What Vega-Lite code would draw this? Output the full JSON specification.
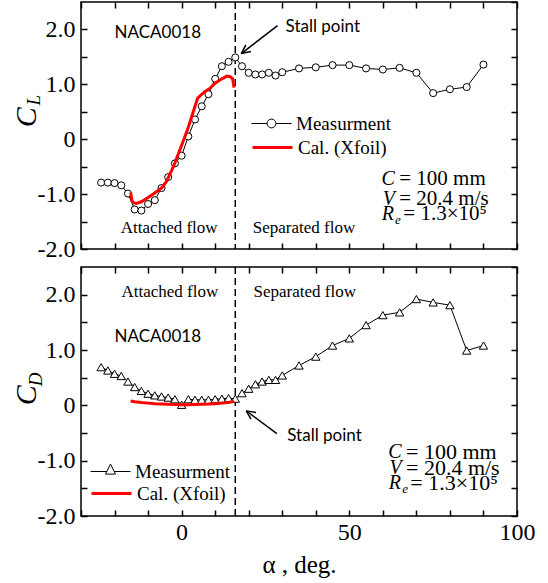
{
  "$schema": "https://vega.github.io/schema/vega-lite/v6.json",
  "padding": {"left": 10, "top": 0, "right": 5, "bottom": 2},
  "background": "white",
  "datasets": {
    "cl": [
      {"a": -24, "v": -0.79, "s": "Measurment"}, {"a": -22, "v": -0.79, "s": "Measurment"},
      {"a": -20, "v": -0.8, "s": "Measurment"}, {"a": -18, "v": -0.84, "s": "Measurment"},
      {"a": -16, "v": -0.99, "s": "Measurment"}, {"a": -14, "v": -1.28, "s": "Measurment"},
      {"a": -12, "v": -1.3, "s": "Measurment"}, {"a": -10, "v": -1.18, "s": "Measurment"},
      {"a": -8, "v": -1.11, "s": "Measurment"}, {"a": -6, "v": -0.89, "s": "Measurment"},
      {"a": -4, "v": -0.69, "s": "Measurment"}, {"a": -2, "v": -0.44, "s": "Measurment"},
      {"a": 0, "v": -0.3, "s": "Measurment"}, {"a": 2, "v": 0.05, "s": "Measurment"},
      {"a": 4, "v": 0.36, "s": "Measurment"}, {"a": 6, "v": 0.6, "s": "Measurment"},
      {"a": 8, "v": 0.82, "s": "Measurment"}, {"a": 10, "v": 1.1, "s": "Measurment"},
      {"a": 12, "v": 1.33, "s": "Measurment"}, {"a": 14, "v": 1.41, "s": "Measurment"},
      {"a": 16, "v": 1.49, "s": "Measurment"}, {"a": 18, "v": 1.33, "s": "Measurment"},
      {"a": 20, "v": 1.21, "s": "Measurment"}, {"a": 22, "v": 1.18, "s": "Measurment"},
      {"a": 24, "v": 1.18, "s": "Measurment"}, {"a": 26, "v": 1.21, "s": "Measurment"},
      {"a": 28, "v": 1.16, "s": "Measurment"}, {"a": 30, "v": 1.22, "s": "Measurment"},
      {"a": 35, "v": 1.29, "s": "Measurment"}, {"a": 40, "v": 1.31, "s": "Measurment"},
      {"a": 45, "v": 1.35, "s": "Measurment"}, {"a": 50, "v": 1.35, "s": "Measurment"},
      {"a": 55, "v": 1.29, "s": "Measurment"}, {"a": 60, "v": 1.27, "s": "Measurment"},
      {"a": 65, "v": 1.3, "s": "Measurment"}, {"a": 70, "v": 1.21, "s": "Measurment"},
      {"a": 75, "v": 0.84, "s": "Measurment"}, {"a": 80, "v": 0.91, "s": "Measurment"},
      {"a": 85, "v": 0.95, "s": "Measurment"}, {"a": 90, "v": 1.36, "s": "Measurment"}
    ],
    "clx": [
      {"a": -15.2, "v": -0.97, "s": "Cal. (Xfoil)"}, {"a": -14.8, "v": -1.12, "s": "Cal. (Xfoil)"},
      {"a": -14.2, "v": -1.16, "s": "Cal. (Xfoil)"}, {"a": -13.5, "v": -1.17, "s": "Cal. (Xfoil)"},
      {"a": -12, "v": -1.14, "s": "Cal. (Xfoil)"}, {"a": -10, "v": -1.06, "s": "Cal. (Xfoil)"},
      {"a": -8, "v": -0.98, "s": "Cal. (Xfoil)"}, {"a": -6, "v": -0.89, "s": "Cal. (Xfoil)"},
      {"a": -4.6, "v": -0.78, "s": "Cal. (Xfoil)"}, {"a": -3, "v": -0.57, "s": "Cal. (Xfoil)"},
      {"a": -2, "v": -0.43, "s": "Cal. (Xfoil)"}, {"a": -1, "v": -0.27, "s": "Cal. (Xfoil)"},
      {"a": 0, "v": -0.11, "s": "Cal. (Xfoil)"}, {"a": 1, "v": 0.05, "s": "Cal. (Xfoil)"},
      {"a": 2, "v": 0.22, "s": "Cal. (Xfoil)"}, {"a": 3, "v": 0.41, "s": "Cal. (Xfoil)"},
      {"a": 4, "v": 0.6, "s": "Cal. (Xfoil)"}, {"a": 4.8, "v": 0.75, "s": "Cal. (Xfoil)"},
      {"a": 5.5, "v": 0.79, "s": "Cal. (Xfoil)"}, {"a": 7, "v": 0.87, "s": "Cal. (Xfoil)"},
      {"a": 8.5, "v": 0.93, "s": "Cal. (Xfoil)"}, {"a": 10, "v": 1.02, "s": "Cal. (Xfoil)"},
      {"a": 12, "v": 1.1, "s": "Cal. (Xfoil)"}, {"a": 13.5, "v": 1.15, "s": "Cal. (Xfoil)"},
      {"a": 14.5, "v": 1.14, "s": "Cal. (Xfoil)"}, {"a": 15.2, "v": 1.1, "s": "Cal. (Xfoil)"},
      {"a": 15.5, "v": 1.0, "s": "Cal. (Xfoil)"}, {"a": 15.6, "v": 0.94, "s": "Cal. (Xfoil)"}
    ],
    "cd": [
      {"a": -24, "v": 0.69, "s": "Measurment"}, {"a": -22, "v": 0.63, "s": "Measurment"},
      {"a": -20, "v": 0.57, "s": "Measurment"}, {"a": -18, "v": 0.53, "s": "Measurment"},
      {"a": -16, "v": 0.43, "s": "Measurment"}, {"a": -14, "v": 0.33, "s": "Measurment"},
      {"a": -12, "v": 0.26, "s": "Measurment"}, {"a": -10, "v": 0.21, "s": "Measurment"},
      {"a": -8, "v": 0.18, "s": "Measurment"}, {"a": -6, "v": 0.16, "s": "Measurment"},
      {"a": -4, "v": 0.14, "s": "Measurment"}, {"a": -2, "v": 0.11, "s": "Measurment"},
      {"a": 0, "v": 0.01, "s": "Measurment"}, {"a": 2, "v": 0.11, "s": "Measurment"},
      {"a": 4, "v": 0.1, "s": "Measurment"}, {"a": 6, "v": 0.1, "s": "Measurment"},
      {"a": 8, "v": 0.1, "s": "Measurment"}, {"a": 10, "v": 0.11, "s": "Measurment"},
      {"a": 12, "v": 0.12, "s": "Measurment"}, {"a": 14, "v": 0.13, "s": "Measurment"},
      {"a": 16, "v": 0.12, "s": "Measurment"}, {"a": 18, "v": 0.22, "s": "Measurment"},
      {"a": 20, "v": 0.3, "s": "Measurment"}, {"a": 22, "v": 0.38, "s": "Measurment"},
      {"a": 24, "v": 0.43, "s": "Measurment"}, {"a": 26, "v": 0.46, "s": "Measurment"},
      {"a": 28, "v": 0.46, "s": "Measurment"}, {"a": 30, "v": 0.54, "s": "Measurment"},
      {"a": 35, "v": 0.72, "s": "Measurment"}, {"a": 40, "v": 0.88, "s": "Measurment"},
      {"a": 45, "v": 1.08, "s": "Measurment"}, {"a": 50, "v": 1.21, "s": "Measurment"},
      {"a": 55, "v": 1.45, "s": "Measurment"}, {"a": 60, "v": 1.63, "s": "Measurment"},
      {"a": 65, "v": 1.68, "s": "Measurment"}, {"a": 70, "v": 1.92, "s": "Measurment"},
      {"a": 75, "v": 1.86, "s": "Measurment"}, {"a": 80, "v": 1.81, "s": "Measurment"},
      {"a": 85, "v": 0.99, "s": "Measurment"}, {"a": 90, "v": 1.08, "s": "Measurment"}
    ],
    "cdx": [
      {"a": -15.2, "v": 0.08, "s": "Cal. (Xfoil)"}, {"a": -14, "v": 0.065, "s": "Cal. (Xfoil)"},
      {"a": -12, "v": 0.05, "s": "Cal. (Xfoil)"}, {"a": -10, "v": 0.04, "s": "Cal. (Xfoil)"},
      {"a": -8, "v": 0.03, "s": "Cal. (Xfoil)"}, {"a": -6, "v": 0.025, "s": "Cal. (Xfoil)"},
      {"a": -4, "v": 0.02, "s": "Cal. (Xfoil)"}, {"a": -2, "v": 0.015, "s": "Cal. (Xfoil)"},
      {"a": 0, "v": 0.012, "s": "Cal. (Xfoil)"}, {"a": 2, "v": 0.012, "s": "Cal. (Xfoil)"},
      {"a": 4, "v": 0.015, "s": "Cal. (Xfoil)"}, {"a": 6, "v": 0.018, "s": "Cal. (Xfoil)"},
      {"a": 8, "v": 0.022, "s": "Cal. (Xfoil)"}, {"a": 10, "v": 0.03, "s": "Cal. (Xfoil)"},
      {"a": 12, "v": 0.04, "s": "Cal. (Xfoil)"}, {"a": 14, "v": 0.05, "s": "Cal. (Xfoil)"},
      {"a": 15, "v": 0.065, "s": "Cal. (Xfoil)"}, {"a": 15.6, "v": 0.08, "s": "Cal. (Xfoil)"}
    ]
  },
  "vconcat": [
    {
      "width": 436,
      "height": 247,
      "resolve": {"axis": {"x": "independent", "y": "independent"}},
      "layer": [
        {
          "data": {"values": [{"a": 16}]},
          "mark": {"type": "rule", "strokeDash": [7, 4], "strokeWidth": 1.5, "color": "black"},
          "encoding": {"x": {"field": "a", "type": "quantitative", "scale": {"domain": [-30, 100], "nice": false, "zero": false}, "axis": null}}
        },
        {
          "data": {"name": "cl"},
          "mark": {"type": "line", "strokeWidth": 1},
          "encoding": {
            "x": {"field": "a", "type": "quantitative", "scale": {"domain": [-30, 100], "nice": false, "zero": false},
                  "axis": {"orient": "bottom", "values": [-30, -20, -10, 0, 10, 20, 30, 40, 50, 60, 70, 80, 90, 100], "labels": false, "title": null}},
            "y": {"field": "v", "type": "quantitative", "scale": {"domain": [-2, 2.5], "nice": false, "zero": false},
                  "axis": {"orient": "left", "values": [-2, -1.5, -1, -0.5, 0, 0.5, 1, 1.5, 2], "labelPadding": 12, "labelFont": "Liberation Serif", "labelFontSize": 24,
                           "labelExpr": "datum.value % 1 != 0 ? '' : (datum.value == 0 ? '0' : (datum.value < 0 ? '-' : '') + format(abs(datum.value), '.1f'))", "title": null}},
            "stroke": {"field": "s", "type": "nominal", "scale": {"domain": ["Measurment"], "range": ["black"]},
                       "legend": {"title": null, "orient": "none", "legendX": 170, "legendY": 101, "symbolSize": 1600,
                                  "symbolType": "M-1,0H-0.22M0.22,0H1M0.22,0C0.22,0.1215,0.1215,0.22,0,0.22C-0.1215,0.22,-0.22,0.1215,-0.22,0C-0.22,-0.1215,-0.1215,-0.22,0,-0.22C0.1215,-0.22,0.22,-0.1215,0.22,0Z",
                                  "symbolStrokeWidth": 1, "symbolFillColor": "transparent",
                                  "labelFont": "Liberation Serif", "labelFontSize": 19, "labelColor": "black", "labelOffset": 4}}
          }
        },
        {
          "data": {"name": "cl"},
          "mark": {"type": "point", "shape": "circle", "filled": true, "fill": "white", "stroke": "black", "strokeWidth": 1, "size": 50, "opacity": 1},
          "encoding": {
            "x": {"field": "a", "type": "quantitative", "axis": null},
            "y": {"field": "v", "type": "quantitative", "axis": null}
          }
        },
        {
          "data": {"name": "clx"},
          "mark": {"type": "line", "strokeWidth": 3, "color": "#ff0000"},
          "encoding": {
            "x": {"field": "a", "type": "quantitative", "axis": null},
            "y": {"field": "v", "type": "quantitative", "axis": null},
            "opacity": {"field": "s", "type": "ordinal", "scale": {"domain": ["Cal. (Xfoil)"], "range": [1]},
                        "legend": {"title": null, "orient": "none", "legendX": 170, "legendY": 124, "symbolSize": 1600,
                                   "symbolType": "M-1,0H1", "symbolStrokeWidth": 3, "symbolStrokeColor": "#ff0000", "symbolFillColor": "transparent",
                                   "labelFont": "Liberation Serif", "labelFontSize": 19, "labelColor": "black", "labelOffset": 4}}
          }
        },
        {
          "data": {"name": "cl"},
          "mark": {"type": "point", "opacity": 0},
          "encoding": {
            "x": {"field": "a", "type": "quantitative", "axis": {"orient": "top", "values": [-30, -20, -10, 0, 10, 20, 30, 40, 50, 60, 70, 80, 90, 100], "labels": false, "title": null}},
            "y": {"field": "v", "type": "quantitative", "axis": {"orient": "right", "values": [-2, -1.5, -1, -0.5, 0, 0.5, 1, 1.5, 2, 2.5], "labels": false, "title": null}}
          }
        },
        {
          "data": {"values": [{"a": 28.6, "v": 2.07, "a2": 17.8, "v2": 1.56}, {"a": 17.8, "v": 1.56, "a2": 20.65, "v2": 1.6}, {"a": 17.8, "v": 1.56, "a2": 19.14, "v2": 1.72}]},
          "mark": {"type": "rule", "strokeWidth": 1.5, "color": "black"},
          "encoding": {
            "x": {"field": "a", "type": "quantitative", "axis": null}, "x2": {"field": "a2"},
            "y": {"field": "v", "type": "quantitative", "axis": null}, "y2": {"field": "v2"}
          }
        },
        {
          "data": {"values": [{"a": -20, "v": 1.93, "t": "NACA0018"}, {"a": 31, "v": 2.04, "t": "Stall point"}]},
          "mark": {"type": "text", "font": "Lato", "fontSize": 17, "align": "left", "baseline": "middle", "color": "black"},
          "encoding": {"x": {"field": "a", "type": "quantitative", "axis": null}, "y": {"field": "v", "type": "quantitative", "axis": null}, "text": {"field": "t"}}
        },
        {
          "data": {"values": [{"a": -3.7, "v": -1.62, "t": "Attached flow"}, {"a": 36.5, "v": -1.62, "t": "Separated flow"}]},
          "mark": {"type": "text", "font": "Liberation Serif", "fontSize": 17, "align": "center", "baseline": "middle", "color": "black"},
          "encoding": {"x": {"field": "a", "type": "quantitative", "axis": null}, "y": {"field": "v", "type": "quantitative", "axis": null}, "text": {"field": "t"}}
        },
        {
          "data": {"values": [{"a": 63.6, "v": -0.73, "t": "C"}, {"a": 63.6, "v": -1.08, "t": "V"}, {"a": 63.3, "v": -1.37, "t": "R"}]},
          "mark": {"type": "text", "font": "Liberation Serif", "fontSize": 20, "fontStyle": "italic", "align": "right", "baseline": "middle", "color": "black"},
          "encoding": {"x": {"field": "a", "type": "quantitative", "axis": null}, "y": {"field": "v", "type": "quantitative", "axis": null}, "text": {"field": "t"}}
        },
        {
          "data": {"values": [{"a": 64.9, "v": -0.73, "t": "= 100 mm"}, {"a": 64.9, "v": -1.08, "t": "= 20.4 m/s"}, {"a": 66.1, "v": -1.37, "t": "= 1.3×10⁵"}]},
          "mark": {"type": "text", "font": "Liberation Serif", "fontSize": 21, "align": "left", "baseline": "middle", "color": "black"},
          "encoding": {"x": {"field": "a", "type": "quantitative", "axis": null}, "y": {"field": "v", "type": "quantitative", "axis": null}, "text": {"field": "t"}}
        },
        {
          "data": {"values": [{"a": 63.6, "v": -1.37, "t": "e"}]},
          "mark": {"type": "text", "font": "Liberation Serif", "fontSize": 13, "fontStyle": "italic", "align": "left", "baseline": "middle", "dy": 6, "color": "black"},
          "encoding": {"x": {"field": "a", "type": "quantitative", "axis": null}, "y": {"field": "v", "type": "quantitative", "axis": null}, "text": {"field": "t"}}
        },
        {
          "data": {"values": [{"a": -46.1, "v": 0.4, "t": "C"}]},
          "mark": {"type": "text", "font": "Liberation Serif", "fontSize": 30, "fontStyle": "italic", "angle": 270, "align": "center", "baseline": "middle", "color": "black"},
          "encoding": {"x": {"field": "a", "type": "quantitative", "axis": null}, "y": {"field": "v", "type": "quantitative", "axis": null}, "text": {"field": "t"}}
        },
        {
          "data": {"values": [{"a": -44.0, "v": 0.71, "t": "L"}]},
          "mark": {"type": "text", "font": "Liberation Serif", "fontSize": 19, "fontStyle": "italic", "angle": 270, "align": "center", "baseline": "middle", "color": "black"},
          "encoding": {"x": {"field": "a", "type": "quantitative", "axis": null}, "y": {"field": "v", "type": "quantitative", "axis": null}, "text": {"field": "t"}}
        }
      ]
    },
    {
      "width": 436,
      "height": 249,
      "resolve": {"axis": {"x": "independent", "y": "independent"}},
      "layer": [
        {
          "data": {"values": [{"a": 16}]},
          "mark": {"type": "rule", "strokeDash": [7, 4], "strokeWidth": 1.5, "color": "black"},
          "encoding": {"x": {"field": "a", "type": "quantitative", "scale": {"domain": [-30, 100], "nice": false, "zero": false}, "axis": null}}
        },
        {
          "data": {"name": "cd"},
          "mark": {"type": "line", "strokeWidth": 1},
          "encoding": {
            "x": {"field": "a", "type": "quantitative", "scale": {"domain": [-30, 100], "nice": false, "zero": false},
                  "axis": {"orient": "bottom", "values": [-30, -20, -10, 0, 10, 20, 30, 40, 50, 60, 70, 80, 90, 100], "labelPadding": 10, "labelFont": "Liberation Serif", "labelFontSize": 24,
                           "labelExpr": "datum.value == 0 || datum.value == 50 || datum.value == 100 ? datum.label : ''",
                           "title": "α , deg.", "titleFont": "Liberation Serif", "titleFontSize": 25, "titlePadding": 8}},
            "y": {"field": "v", "type": "quantitative", "scale": {"domain": [-2, 2.5], "nice": false, "zero": false},
                  "axis": {"orient": "left", "values": [-2, -1.5, -1, -0.5, 0, 0.5, 1, 1.5, 2], "labelPadding": 12, "labelFont": "Liberation Serif", "labelFontSize": 24,
                           "labelExpr": "datum.value % 1 != 0 ? '' : (datum.value == 0 ? '0' : (datum.value < 0 ? '-' : '') + format(abs(datum.value), '.1f'))", "title": null}},
            "stroke": {"field": "s", "type": "nominal", "scale": {"domain": ["Measurment"], "range": ["black"]},
                       "legend": {"title": null, "orient": "none", "legendX": 9, "legendY": 184, "symbolSize": 1600,
                                  "symbolType": "M-1,0H-0.185M0.185,0H1M0,-0.37L0.25,0.13L-0.25,0.13Z",
                                  "symbolStrokeWidth": 1, "symbolFillColor": "transparent",
                                  "labelFont": "Liberation Serif", "labelFontSize": 19, "labelColor": "black", "labelOffset": 4}}
          }
        },
        {
          "data": {"name": "cd"},
          "mark": {"type": "point", "shape": "triangle-up", "filled": true, "fill": "white", "stroke": "black", "strokeWidth": 1, "size": 70, "opacity": 1},
          "encoding": {
            "x": {"field": "a", "type": "quantitative", "axis": null},
            "y": {"field": "v", "type": "quantitative", "axis": null}
          }
        },
        {
          "data": {"name": "cdx"},
          "mark": {"type": "line", "strokeWidth": 3, "color": "#ff0000"},
          "encoding": {
            "x": {"field": "a", "type": "quantitative", "axis": null},
            "y": {"field": "v", "type": "quantitative", "axis": null},
            "opacity": {"field": "s", "type": "ordinal", "scale": {"domain": ["Cal. (Xfoil)"], "range": [1]},
                        "legend": {"title": null, "orient": "none", "legendX": 9, "legendY": 205, "symbolSize": 1600,
                                   "symbolType": "M-1,0H1", "symbolStrokeWidth": 3, "symbolStrokeColor": "#ff0000", "symbolFillColor": "transparent",
                                   "labelFont": "Liberation Serif", "labelFontSize": 19, "labelColor": "black", "labelOffset": 4}}
          }
        },
        {
          "data": {"name": "cd"},
          "mark": {"type": "point", "opacity": 0},
          "encoding": {
            "x": {"field": "a", "type": "quantitative", "axis": {"orient": "top", "values": [-30, -20, -10, 0, 10, 20, 30, 40, 50, 60, 70, 80, 90, 100], "labels": false, "title": null}},
            "y": {"field": "v", "type": "quantitative", "axis": {"orient": "right", "values": [-2, -1.5, -1, -0.5, 0, 0.5, 1, 1.5, 2, 2.5], "labels": false, "title": null}}
          }
        },
        {
          "data": {"values": [{"a": 28.4, "v": -0.51, "a2": 19.26, "v2": -0.1}, {"a": 19.26, "v": -0.1, "a2": 20.7, "v2": -0.25}, {"a": 19.26, "v": -0.1, "a2": 22.2, "v2": -0.13}]},
          "mark": {"type": "rule", "strokeWidth": 1.5, "color": "black"},
          "encoding": {
            "x": {"field": "a", "type": "quantitative", "axis": null}, "x2": {"field": "a2"},
            "y": {"field": "v", "type": "quantitative", "axis": null}, "y2": {"field": "v2"}
          }
        },
        {
          "data": {"values": [{"a": -20, "v": 1.24, "t": "NACA0018"}, {"a": 31.5, "v": -0.56, "t": "Stall point"}]},
          "mark": {"type": "text", "font": "Lato", "fontSize": 17, "align": "left", "baseline": "middle", "color": "black"},
          "encoding": {"x": {"field": "a", "type": "quantitative", "axis": null}, "y": {"field": "v", "type": "quantitative", "axis": null}, "text": {"field": "t"}}
        },
        {
          "data": {"values": [{"a": -3.5, "v": 2.05, "t": "Attached flow"}, {"a": 36.7, "v": 2.04, "t": "Separated flow"}]},
          "mark": {"type": "text", "font": "Liberation Serif", "fontSize": 17, "align": "center", "baseline": "middle", "color": "black"},
          "encoding": {"x": {"field": "a", "type": "quantitative", "axis": null}, "y": {"field": "v", "type": "quantitative", "axis": null}, "text": {"field": "t"}}
        },
        {
          "data": {"values": [{"a": 65.6, "v": -0.84, "t": "C"}, {"a": 65.6, "v": -1.13, "t": "V"}, {"a": 65.4, "v": -1.41, "t": "R"}]},
          "mark": {"type": "text", "font": "Liberation Serif", "fontSize": 20, "fontStyle": "italic", "align": "right", "baseline": "middle", "color": "black"},
          "encoding": {"x": {"field": "a", "type": "quantitative", "axis": null}, "y": {"field": "v", "type": "quantitative", "axis": null}, "text": {"field": "t"}}
        },
        {
          "data": {"values": [{"a": 66.9, "v": -0.84, "t": "= 100 mm"}, {"a": 66.9, "v": -1.13, "t": "= 20.4 m/s"}, {"a": 68.2, "v": -1.41, "t": "= 1.3×10⁵"}]},
          "mark": {"type": "text", "font": "Liberation Serif", "fontSize": 22, "align": "left", "baseline": "middle", "color": "black"},
          "encoding": {"x": {"field": "a", "type": "quantitative", "axis": null}, "y": {"field": "v", "type": "quantitative", "axis": null}, "text": {"field": "t"}}
        },
        {
          "data": {"values": [{"a": 65.8, "v": -1.41, "t": "e"}]},
          "mark": {"type": "text", "font": "Liberation Serif", "fontSize": 13, "fontStyle": "italic", "align": "left", "baseline": "middle", "dy": 6, "color": "black"},
          "encoding": {"x": {"field": "a", "type": "quantitative", "axis": null}, "y": {"field": "v", "type": "quantitative", "axis": null}, "text": {"field": "t"}}
        },
        {
          "data": {"values": [{"a": -46.2, "v": 0.18, "t": "C"}]},
          "mark": {"type": "text", "font": "Liberation Serif", "fontSize": 30, "fontStyle": "italic", "angle": 270, "align": "center", "baseline": "middle", "color": "black"},
          "encoding": {"x": {"field": "a", "type": "quantitative", "axis": null}, "y": {"field": "v", "type": "quantitative", "axis": null}, "text": {"field": "t"}}
        },
        {
          "data": {"values": [{"a": -43.4, "v": 0.47, "t": "D"}]},
          "mark": {"type": "text", "font": "Liberation Serif", "fontSize": 19, "fontStyle": "italic", "angle": 270, "align": "center", "baseline": "middle", "color": "black"},
          "encoding": {"x": {"field": "a", "type": "quantitative", "axis": null}, "y": {"field": "v", "type": "quantitative", "axis": null}, "text": {"field": "t"}}
        }
      ]
    }
  ],
  "spacing": 3,
  "resolve": {"scale": {"stroke": "independent", "opacity": "independent"}, "legend": {"stroke": "independent", "opacity": "independent"}},
  "config": {
    "view": {"stroke": "black", "strokeWidth": 1.5},
    "axis": {"domain": false, "grid": false, "tickSize": -6, "tickColor": "black", "tickWidth": 1.5, "minExtent": 0,
             "labelFont": "Liberation Serif", "labelFontSize": 24, "labelColor": "black", "labelOverlap": false, "labelFlush": false,
             "titleFont": "Liberation Serif", "titleColor": "black", "titleFontWeight": "normal"},
    "legend": {"labelLimit": 300}
  }
}
